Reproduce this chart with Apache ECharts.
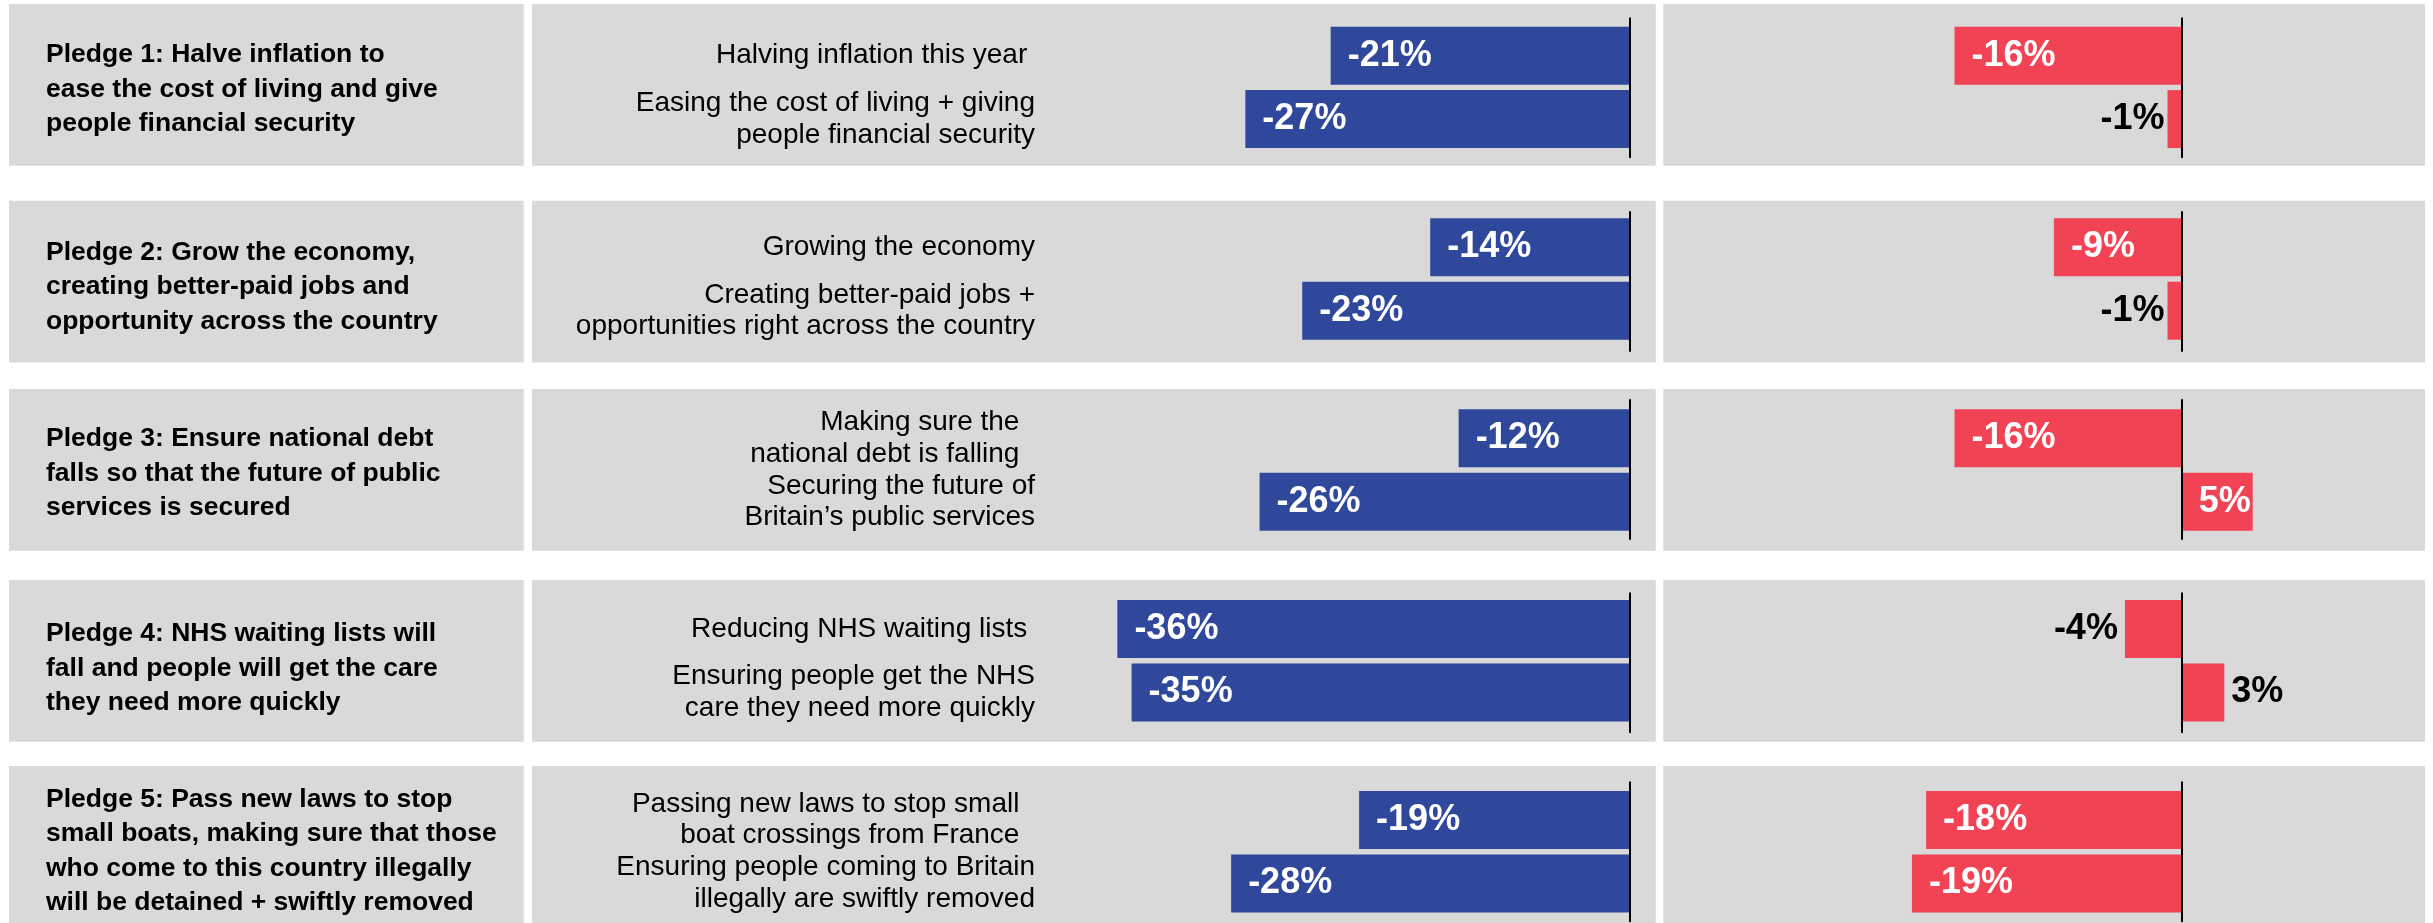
<!DOCTYPE html>
<html><head><meta charset="utf-8">
<script src="https://cdn.jsdelivr.net/npm/echarts@6/dist/echarts.min.js"></script>
<style>html,body{margin:0;padding:0;background:#fff}#c{width:2433px;height:923px}</style>
</head><body><div id="c"></div>
<script>
// ---------- DATA ----------
const pledges = [
  "Pledge 1: Halve inflation to\nease the cost of living and give\npeople financial security",
  "Pledge 2: Grow the economy,\ncreating better-paid jobs and\nopportunity across the country",
  "Pledge 3: Ensure national debt\nfalls so that the future of public\nservices is secured",
  "Pledge 4: NHS waiting lists will\nfall and people will get the care\nthey need more quickly",
  "Pledge 5: Pass new laws to stop\nsmall boats, making sure that those\nwho come to this country illegally\nwill be detained + swiftly removed"
];
const statements = [
  ["Halving inflation this year ", "Easing the cost of living + giving\npeople financial security"],
  ["Growing the economy", "Creating better-paid jobs +\nopportunities right across the country"],
  ["Making sure the  \nnational debt is falling  ", "Securing the future of\nBritain\u2019s public services"],
  ["Reducing NHS waiting lists ", "Ensuring people get the NHS\ncare they need more quickly"],
  ["Passing new laws to stop small  \nboat crossings from France  ", "Ensuring people coming to Britain\nillegally are swiftly removed"]
];
const blueValues = [[-21, -27], [-14, -23], [-12, -26], [-36, -35], [-19, -28]];
const redValues  = [[-16, -1], [-9, -1], [-16, 5], [-4, 3], [-18, -19]];

// ---------- LAYOUT / STYLE ----------
const W = 2433;
const FONT = '"Liberation Sans", Arial, Helvetica, sans-serif';
const BLUE = '#30489C', RED = '#F24355', PANEL = '#D9D9D9';
const panelTop = [4, 200.7, 389, 580, 766], panelH = 161.7;
const barsTop = [26.7, 218.3, 409.3, 600, 791];
const axisTop = [18.3, 212, 400, 593.3, 782.3], axisH = 139;
const pledgeY = [89.5, 286.7, 473.3, 668.3, 851.3];
const MID = {min: -40, max: 2, left: 1060.5, right: 1657.7};
const RGT = {min: -25, max: 10, left: 1826.7, right: 2323.7};
const panelsX = [[9, 523.7], [532, 1655.7], [1663.3, 2425]];

const grid = [], xAxis = [], yAxis = [], series = [], graphic = [];

function valueItem(v) {
  const big = Math.abs(v) >= 5;
  return {
    value: v,
    label: big
      ? {position: 'insideLeft', distance: 17, color: '#fff'}
      : {position: v < 0 ? 'left' : 'right', distance: Math.abs(v) < 2 ? 3 : 7, color: '#000'}
  };
}

for (let i = 0; i < 5; i++) {
  // panels
  panelsX.forEach(([x0, x1]) => {
    graphic.push({type: 'rect', z: -10, silent: true,
      shape: {x: x0, y: panelTop[i], width: x1 - x0, height: panelH},
      style: {fill: PANEL}});
  });
  graphic.push({type: 'text', z: 5, x: 46, y: pledgeY[i], silent: true,
    style: {text: pledges[i], fill: '#000', font: 'bold 26.5px ' + FONT,
      lineHeight: 34.5, verticalAlign: 'middle', textVerticalAlign: 'middle'}});

  const base = grid.length;
  const defs = [
    {s: MID, top: barsTop[i] - 2.7, h: 126.8, kind: 'bars', labels: statements[i]},
    {s: RGT, top: barsTop[i] - 2.7, h: 126.8, kind: 'bars', labels: null},
    {s: MID, top: axisTop[i], h: axisH, kind: 'axis'},
    {s: RGT, top: axisTop[i], h: axisH, kind: 'axis'}
  ];
  defs.forEach((d, k) => {
    grid.push({left: d.s.left, right: W - d.s.right, top: d.top, height: d.h,
      containLabel: false, outerBoundsMode: 'none'});
    xAxis.push({type: 'value', gridIndex: base + k, min: d.s.min, max: d.s.max, show: false});
    if (d.kind === 'bars') {
      yAxis.push({type: 'category', gridIndex: base + k, inverse: true,
        data: d.labels ? d.labels : ['', ''],
        axisLine: {show: false}, axisTick: {show: false}, splitLine: {show: false},
        axisLabel: d.labels ? {show: true, interval: 0, margin: 25.5, fontSize: 28,
          lineHeight: 31.5, color: '#000', fontFamily: FONT} : {show: false}});
    } else {
      yAxis.push({type: 'category', gridIndex: base + k, data: [''], z: 10,
        axisLine: {show: true, onZero: true, lineStyle: {color: '#000', width: 2}},
        axisTick: {show: false}, axisLabel: {show: false}, splitLine: {show: false}});
    }
  });
  series.push({type: 'bar', xAxisIndex: base, yAxisIndex: base, barWidth: 58,
    itemStyle: {color: BLUE},
    label: {show: true, fontSize: 36, fontWeight: 'bold', fontFamily: FONT,
      formatter: p => p.value + '%'},
    data: blueValues[i].map(valueItem)});
  series.push({type: 'bar', xAxisIndex: base + 1, yAxisIndex: base + 1, barWidth: 58,
    itemStyle: {color: RED},
    label: {show: true, fontSize: 36, fontWeight: 'bold', fontFamily: FONT,
      formatter: p => p.value + '%'},
    data: redValues[i].map(valueItem)});
}

const chart = echarts.init(document.getElementById('c'), null, {renderer: 'canvas', width: 2433, height: 923});
chart.setOption({
  animation: false,
  backgroundColor: '#fff',
  textStyle: {fontFamily: FONT},
  grid, xAxis, yAxis, series, graphic
});
</script>
</body></html>
